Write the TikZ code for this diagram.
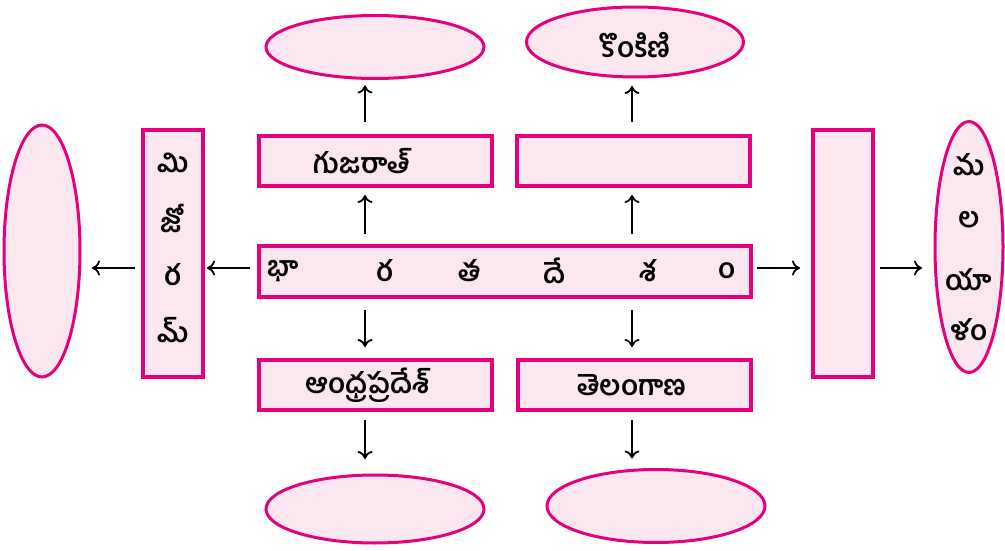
\documentclass[tikz,border=0pt]{standalone}
\usepackage{fontspec}
\newfontfamily\tel[Script=Telugu]{Hind Guntur}
\usetikzlibrary{shapes.geometric,arrows.meta}
\definecolor{pinkline}{HTML}{E5007D}
\definecolor{pinkfill}{HTML}{FCE6F0}
\tikzset{
  box/.style={draw=pinkline,fill=pinkfill,line width=3.2pt,inner sep=0pt,outer sep=0pt},
  oval/.style={draw=pinkline,fill=pinkfill,line width=3pt,ellipse,inner sep=0pt,outer sep=0pt},
  lbl/.style={font=\tel\bfseries\fontsize{28}{28}\selectfont,inner sep=0pt},
  arr/.style={-{To[length=8pt,width=15pt,line width=1.8pt]},line width=1.9pt,black}
}
\begin{document}
\begin{tikzpicture}[x=1pt,y=-1pt]
\useasboundingbox (0,0) rectangle (1005,551);
% ellipses
\node[oval,minimum width=218pt,minimum height=63pt] (e1) at (375,47) {};
\node[oval,minimum width=217pt,minimum height=70pt] (e2) at (635,42) {};
\node[oval,minimum width=76pt,minimum height=252pt] (e3) at (42,251) {};
\node[oval,minimum width=68pt,minimum height=251pt] (e4) at (969,247) {};
\node[oval,minimum width=218pt,minimum height=68pt] (e5) at (375,509) {};
\node[oval,minimum width=218pt,minimum height=73pt] (e6) at (656,506) {};
% boxes
\node[box,minimum width=233pt,minimum height=50pt] (guj) at (375.5,161) {};
\node[box,minimum width=233pt,minimum height=50pt] (tr) at (633.5,161) {};
\node[box,minimum width=492pt,minimum height=51pt] (bh) at (505,271.5) {};
\node[box,minimum width=60pt,minimum height=247pt] (miz) at (173,253.5) {};
\node[box,minimum width=60pt,minimum height=247pt] (rb) at (843,253.5) {};
\node[box,minimum width=233pt,minimum height=50pt] (ap) at (375.5,385) {};
\node[box,minimum width=233pt,minimum height=50pt] (tg) at (634.5,385) {};
% labels
\node[lbl] (tguj) at (362,161) {గుజరాత్};
\node[lbl] (tkon) at (635,45) {కొంకిణి};
\node[lbl] (tap) at (368,385) {ఆంధ్రప్రదేశ్};
\node[lbl] (ttg) at (632,385) {తెలంగాణ};
\node[lbl] (b1) at (283,271) {భా};
\node[lbl] (b2) at (385,271) {ర};
\node[lbl] (b3) at (470,271) {త};
\node[lbl] (b4) at (555,271) {దే};
\node[lbl] (b5) at (648,271) {శ};
\node[lbl] (b6) at (727,271) {\XeTeXglyph\XeTeXcharglyph"0C02\relax};
\node[lbl] (m1) at (173,163) {మి};
\node[lbl] (m2) at (173,218) {జో};
\node[lbl] (m3) at (173,275) {ర};
\node[lbl] (m4) at (173,330) {మ్};
\node[lbl] (l1) at (969,165) {మ};
\node[lbl] (l2) at (969,220) {ల};
\node[lbl] (l3) at (969,280) {యా};
\node[lbl] (l4) at (969,330) {ళం};
% arrows
\draw[arr,shorten <=12pt,shorten >=9pt] (bh.north -| 365,0) -- (guj.south -| 365,0);
\draw[arr,shorten <=14pt,shorten >=7pt] (guj.north -| 365,0) -- (e1.south -| 365,0);
\draw[arr,shorten <=12pt,shorten >=9pt] (bh.north -| 632,0) -- (tr.south -| 632,0);
\draw[arr,shorten <=14pt,shorten >=9pt] (tr.north -| 632,0) -- (e2.south -| 632,0);
\draw[arr,shorten <=13pt,shorten >=13pt] (bh.south -| 365,0) -- (ap.north -| 365,0);
\draw[arr,shorten <=10pt,shorten >=16pt] (ap.south -| 365,0) -- (e5.north -| 365,0);
\draw[arr,shorten <=13pt,shorten >=13pt] (bh.south -| 632,0) -- (tg.north -| 632,0);
\draw[arr,shorten <=10pt,shorten >=11pt] (tg.south -| 632,0) -- (e6.north -| 632,0);
\draw[arr,shorten <=9pt,shorten >=4pt] (bh.west |- 0,268) -- (miz.east |- 0,268);
\draw[arr,shorten <=8pt,shorten >=12pt] (miz.west |- 0,268) -- (e3.east |- 0,268);
\draw[arr,shorten <=6pt,shorten >=13pt] (bh.east |- 0,268) -- (rb.west |- 0,268);
\draw[arr,shorten <=7pt,shorten >=13pt] (rb.east |- 0,268) -- (e4.west |- 0,268);
\end{tikzpicture}
\end{document}
